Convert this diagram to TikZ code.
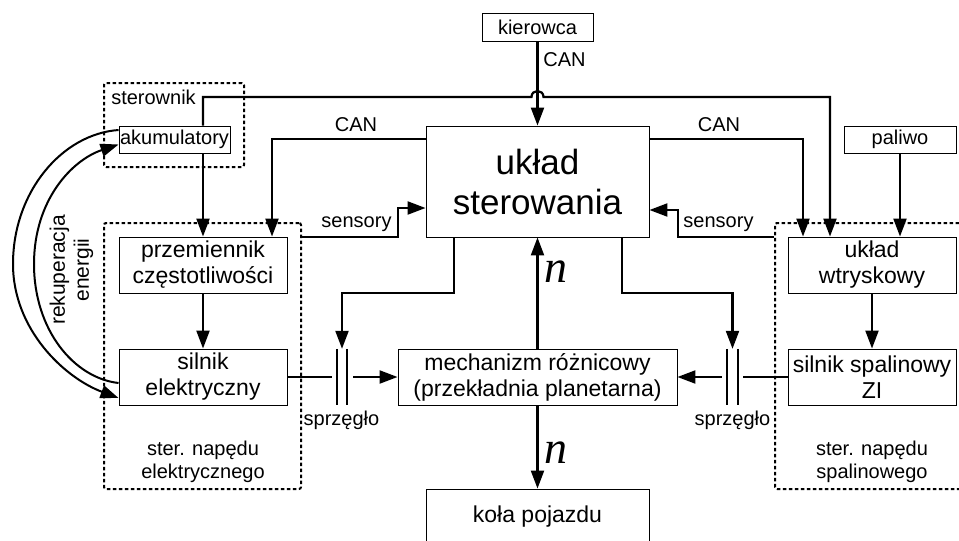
\documentclass[tikz,border=0pt]{standalone}
\usepackage{fontspec}
\setmainfont{Liberation Sans}
\newfontfamily\nfont{Liberation Serif}
\usetikzlibrary{arrows.meta}
\begin{document}
\begin{tikzpicture}[x=1pt,y=-1pt,
  box/.style={draw, line width=0.9pt, inner sep=0pt, align=center, font=\fontsize{23}{26}\selectfont},
  sbox/.style={draw, line width=0.9pt, inner sep=0pt, font=\fontsize{20}{24}\selectfont},
  lbl/.style={inner sep=0pt, font=\fontsize{20}{23}\selectfont, align=center},
  conn/.style={line width=2.2pt, -{Triangle[length=18pt,width=13pt]}},
  wire/.style={line width=2.2pt},
  plate/.style={line width=2.2pt},
  curv/.style={line width=2pt, -{Triangle[length=18pt,width=13pt]}},
  grp/.style={draw, line width=2pt, dash pattern=on 3.5pt off 2.5pt, rounded corners=2pt, inner sep=0pt},
  clutch/.style={minimum height=56pt, inner sep=0pt},
  nl/.style={inner sep=0pt, font=\nfont\itshape\fontsize{46}{46}\selectfont}
]
\useasboundingbox (0,0) rectangle (959,541);
\clip (0,0) rectangle (959,541);

% groups
\node[grp, minimum width=140pt, minimum height=84pt] (gster) at (174,125) {};
\node[grp, minimum width=197pt, minimum height=266pt] (gel) at (202.5,356) {};
\node[grp, minimum width=210pt, minimum height=266pt] (gsp) at (880,356) {};

% boxes
\node[sbox, minimum width=111pt, minimum height=28pt] (kier) at (537.5,27) {kierowca};
\node[box, minimum width=223pt, minimum height=111pt, font=\fontsize{35}{40}\selectfont] (uklad) at (537.5,181.5) {układ\\sterowania};
\node[sbox, minimum width=112pt, minimum height=27pt] (paliwo) at (900,139.5) {paliwo};
\node[sbox, minimum width=111pt, minimum height=27pt] (akum) at (174.5,139.5) {akumulatory};
\node[box, minimum width=168pt, minimum height=56pt] (przem) at (203,265) {przemiennik\\częstotliwości};
\node[box, minimum width=168pt, minimum height=56pt] (silel) at (203,377) {silnik\\elektryczny};
\node[box, minimum width=168pt, minimum height=56pt] (wtrysk) at (872,265) {układ\\wtryskowy};
\node[box, minimum width=168pt, minimum height=56pt] (silsp) at (872,377) {silnik spalinowy\\ZI};
\node[box, minimum width=279pt, minimum height=56pt] (mech) at (537.5,377) {mechanizm różnicowy\\(przekładnia planetarna)};
\node[box, minimum width=223pt, minimum height=56pt] (kola) at (537.5,517) {koła pojazdu};

% clutches
\node[clutch, minimum width=10pt] (cl1) at (342,377) {};
\node[clutch, minimum width=11pt] (cl2) at (732.5,377) {};
\draw[plate] (cl1.north west) -- (cl1.south west);
\draw[plate] (cl1.north east) -- (cl1.south east);
\draw[plate] (cl2.north west) -- (cl2.south west);
\draw[plate] (cl2.north east) -- (cl2.south east);

% helper coordinates
\coordinate (tl) at (203,97);
\coordinate (tr) at (830,97);
\coordinate (hop) at (kier.south |- tl);
\coordinate (canl) at (272,139);
\coordinate (canr) at (803,139);
\coordinate (sl) at (398,237);
\coordinate (sl2) at (398,208);
\coordinate (sr) at (678,237);
\coordinate (sr2) at (678,210);
\coordinate (d1) at (454,293);
\coordinate (d2) at (622,293);

% connectors
\draw[conn] (kier.south) -- (uklad.north);
\draw[conn] (akum.north -| tl) -- (tl) -- ([xshift=-6pt]hop)
  .. controls ([xshift=-6pt,yshift=8pt]hop) and ([xshift=6pt,yshift=8pt]hop) .. ([xshift=6pt]hop)
  -- (tr) -- (tr |- wtrysk.north);
\draw[conn] (akum.south -| tl) -- (przem.north -| tl);
\draw[conn] (uklad.west |- canl) -- (canl) -- (canl |- przem.north);
\draw[conn] (uklad.east |- canr) -- (canr) -- (canr |- wtrysk.north);
\draw[conn] (paliwo.south) -- (paliwo.south |- wtrysk.north);
\draw[conn] (gel.east |- sl) -- (sl) -- (sl2) -- (uklad.west |- sl2);
\draw[conn] (gsp.west |- sr) -- (sr) -- (sr2) -- (uklad.east |- sr2);
\draw[conn] (przem) -- (silel);
\draw[conn] (wtrysk) -- (silsp);
\draw[conn] (uklad.south -| d1) -- (d1) -- (d1 -| cl1) -- (cl1.north);
\draw[conn] (uklad.south -| d2) -- (d2) -- (d2 -| cl2) -- (cl2.north);
\draw[conn] (mech) -- (uklad);
\draw[conn] (mech) -- (kola);
\draw[wire] (silel.east) -- ([xshift=-5pt]cl1.west);
\draw[conn] ([xshift=6pt]cl1.east) -- (mech.west);
\draw[wire] (silsp.west) -- ([xshift=5pt]cl2.east);
\draw[conn] ([xshift=-5pt]cl2.west) -- (mech.east);

% recuperation arcs
\draw[curv] ([yshift=9.5pt]akum.west) .. controls (62,134) and (13,192) .. (13,264)
  .. controls (13,330) and (65,378) .. ([yshift=-21pt]silel.west);
\draw[curv] ([yshift=-6pt]silel.west) .. controls (74,378) and (34,330) .. (34,264)
  .. controls (34,200) and (72,160) .. ([yshift=-5pt]akum.west);

% labels
\node[lbl] (lcan0) at (564.5,60) {CAN};
\node[lbl] (lcan1) at (356,124.5) {CAN};
\node[lbl] (lcan2) at (719,124.5) {CAN};
\node[lbl] (lsen1) at (356.5,224.5) {sensory};
\node[lbl] (lsen2) at (718.5,224.5) {sensory};
\node[lbl] (lster) at (153.5,97.5) {sterownik};
\node[lbl] (lspr1) at (341.5,420) {sprzęgło};
\node[lbl] (lspr2) at (732.5,420) {sprzęgło};
\node[lbl] (lgel) at (203,461.5) {ster. napędu\\elektrycznego};
\node[lbl] (lgsp) at (872,461.5) {ster. napędu\\spalinowego};
\node[lbl, rotate=90, font=\fontsize{21}{24}\selectfont] (lrek) at (71.5,270) {rekuperacja\\energii};
\node[nl] (n1) at (556,272) {n};
\node[nl] (n2) at (556,453) {n};
\end{tikzpicture}
\end{document}
